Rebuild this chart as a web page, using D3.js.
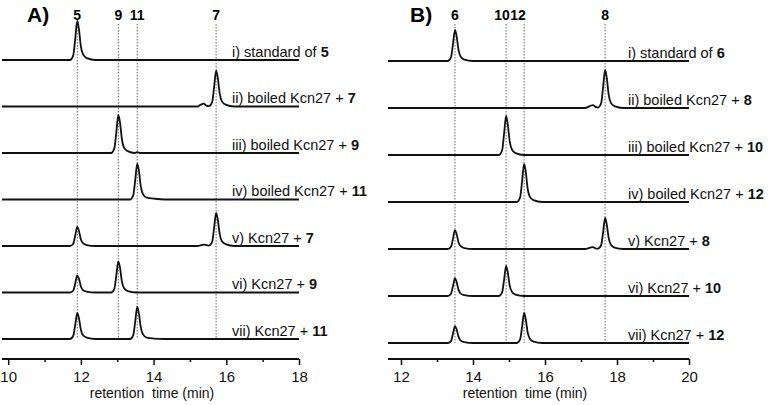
<!DOCTYPE html>
<html>
<head>
<meta charset="utf-8">
<script src="https://cdn.jsdelivr.net/npm/d3@7"></script>
<style>
  html, body { margin: 0; padding: 0; background: #fff; }
  svg { display: block; font-family: "Liberation Sans", Arial, sans-serif; }
</style>
</head>
<body>
<svg id="chart" width="769" height="405"></svg>
<script>
// ---------------- DATA ----------------
// Panel A: x domain (min), tick labels, reference compounds
const domainA = [9.83, 18];
const majorTicksA = [10, 12, 14, 16, 18];
const minorTicksA = [11, 13, 15, 17];
const markerTimesA = [11.9, 13.03, 13.55, 15.72];
const markerLabelsA = ["5", "9", "11", "7"];
const traceLabelsA = [
  ["i) standard of ", "5"],
  ["ii) boiled Kcn27 + ", "7"],
  ["iii) boiled Kcn27 + ", "9"],
  ["iv) boiled Kcn27 + ", "11"],
  ["v) Kcn27 + ", "7"],
  ["vi) Kcn27 + ", "9"],
  ["vii) Kcn27 + ", "11"]
];
// chromatogram points [time (min), signal (a.u.)]
const traceA1 = [[9.83,0],[11.7,0],[11.79,10],[11.845,46],[11.9,84],[11.945,67],[12.0,29],[12.06,12],[12.16,4],[12.4,0],[18,0]];
const traceA2 = [[9.83,0],[15.2,0],[15.3,4],[15.38,6],[15.45,2],[15.52,1],[15.61,9],[15.665,42],[15.72,77],[15.765,62],[15.82,27],[15.88,11],[15.98,4],[16.22,0],[18,0]];
const traceA3 = [[9.83,0],[12.83,0],[12.92,10],[12.975,45],[13.03,82],[13.075,66],[13.13,29],[13.19,11],[13.29,4],[13.48,0],[13.55,2],[13.62,0],[18,0]];
const traceA4 = [[9.83,0],[13.35,0],[13.44,9],[13.495,42],[13.55,77],[13.595,62],[13.65,27],[13.71,11],[13.81,4],[14.0,2],[14.3,0],[18,0]];
const traceA5 = [[9.83,0],[11.7,0],[11.79,5],[11.845,23],[11.9,41],[11.945,33],[12.0,14],[12.06,6],[12.16,2],[12.4,0],[15.2,0],[15.38,3],[15.52,1],[15.61,9],[15.665,39],[15.72,71],[15.765,57],[15.82,25],[15.88,10],[15.98,4],[16.22,0],[18,0]];
const traceA6 = [[9.83,0],[11.7,0],[11.79,4],[11.845,20],[11.9,37],[11.945,30],[12.0,13],[12.06,5],[12.16,2],[12.4,0],[12.83,0],[12.92,8],[12.975,37],[13.03,67],[13.075,54],[13.13,23],[13.19,9],[13.29,3],[13.53,0],[18,0]];
const traceA7 = [[9.83,0],[11.7,0],[11.79,7],[11.845,31],[11.9,56],[11.945,45],[12.0,20],[12.06,8],[12.16,3],[12.4,0],[13.35,0],[13.44,8],[13.495,38],[13.55,69],[13.595,55],[13.65,24],[13.71,10],[13.81,3],[14.0,1],[14.3,0],[18,0]];
const tracesA = [traceA1, traceA2, traceA3, traceA4, traceA5, traceA6, traceA7];

// Panel B
const domainB = [11.64, 20];
const majorTicksB = [12, 14, 16, 18, 20];
const minorTicksB = [13, 15, 17, 19];
const markerTimesB = [13.5, 14.92, 15.42, 17.67];
const markerLabelsB = ["6", "10", "12", "8"];
const traceLabelsB = [
  ["i) standard of ", "6"],
  ["ii) boiled Kcn27 + ", "8"],
  ["iii) boiled Kcn27 + ", "10"],
  ["iv) boiled Kcn27 + ", "12"],
  ["v) Kcn27 + ", "8"],
  ["vi) Kcn27 + ", "10"],
  ["vii) Kcn27 + ", "12"]
];
const traceB1 = [[11.64,0],[13.3,0],[13.39,8],[13.445,36],[13.5,66],[13.545,53],[13.6,23],[13.66,9],[13.76,3],[14.0,0],[20,0]];
const traceB2 = [[11.64,0],[17.1,0],[17.33,6],[17.42,2],[17.47,1],[17.56,10],[17.615,45],[17.67,81],[17.715,65],[17.77,28],[17.83,11],[17.93,4],[18.17,0],[20,0]];
const traceB3 = [[11.64,0],[14.72,0],[14.81,10],[14.865,46],[14.92,83],[14.965,66],[15.02,29],[15.08,12],[15.18,4],[15.42,0],[20,0]];
const traceB4 = [[11.64,0],[15.22,0],[15.31,10],[15.365,45],[15.42,81],[15.465,65],[15.52,28],[15.58,11],[15.68,4],[15.92,0],[20,0]];
const traceB5 = [[11.64,0],[13.3,0],[13.39,5],[13.445,22],[13.5,40],[13.545,32],[13.6,14],[13.66,6],[13.76,2],[14.0,0],[17.1,0],[17.33,4],[17.42,1],[17.47,1],[17.56,8],[17.615,36],[17.67,66],[17.715,53],[17.77,23],[17.83,9],[17.93,3],[18.17,0],[20,0]];
const traceB6 = [[11.64,0],[13.3,0],[13.39,5],[13.445,21],[13.5,38],[13.545,30],[13.6,13],[13.66,5],[13.76,2],[14.0,0],[14.72,0],[14.81,8],[14.865,35],[14.92,64],[14.965,51],[15.02,22],[15.08,9],[15.18,3],[15.42,0],[20,0]];
const traceB7 = [[11.64,0],[13.3,0],[13.39,4],[13.445,20],[13.5,36],[13.545,29],[13.6,13],[13.66,5],[13.76,2],[14.0,0],[15.22,0],[15.31,8],[15.365,35],[15.42,64],[15.465,51],[15.52,22],[15.58,9],[15.68,3],[15.92,0],[20,0]];
const tracesB = [traceB1, traceB2, traceB3, traceB4, traceB5, traceB6, traceB7];

const traceSpacing = 100; // signal units between stacked traces
const axisTitle = "retention\u00a0\u00a0time (min)";

// ---------------- DRAW ----------------
const svg = d3.select("#chart");

function panel(cfg) {
  const g = svg.append("g");
  const x = d3.scaleLinear().domain(cfg.domain).range(cfg.xRange);
  const n = cfg.traces.length;
  const y = d3.scaleLinear().domain([0, (n - 1) * traceSpacing]).range(cfg.yRange);

  // panel letter
  g.append("text").attr("x", cfg.letterX).attr("y", 22)
    .attr("font-size", 21).attr("font-weight", "bold").text(cfg.letter);

  // dotted marker lines
  g.selectAll(".mk").data(cfg.markerTimes).join("line")
    .attr("x1", d => x(d)).attr("x2", d => x(d))
    .attr("y1", 24).attr("y2", cfg.yRange[0])
    .attr("stroke", "#666").attr("stroke-width", 1)
    .attr("stroke-dasharray", "1.5,1.5");
  g.selectAll(".mkl").data(cfg.markerLabels).join("text")
    .attr("x", (d, i) => x(cfg.markerTimes[i]) + (cfg.markerDx ? cfg.markerDx[i] : 0))
    .attr("y", 20).attr("text-anchor", "middle")
    .attr("font-size", 14).attr("font-weight", "bold").text(d => d);

  // traces
  const line = d3.line().curve(d3.curveMonotoneX);
  cfg.traces.forEach((tr, k) => {
    const off = (n - 1 - k) * traceSpacing;
    g.append("path")
      .attr("d", line.x(d => x(d[0])).y(d => y(off + d[1]))(tr))
      .attr("fill", "none").attr("stroke", "#111").attr("stroke-width", 1.8)
      .attr("stroke-linejoin", "round");
    const t = g.append("text").attr("x", cfg.labelX).attr("y", y(off) - 3.5)
      .attr("font-size", 14.5).attr("fill", "#111");
    t.append("tspan").text(cfg.labels[k][0]);
    t.append("tspan").attr("font-weight", "bold").text(cfg.labels[k][1]);
  });

  // axis
  const ax = g.append("g").attr("transform", `translate(0,${cfg.axisY})`);
  ax.append("line").attr("x1", cfg.xRange[0]).attr("x2", cfg.xRange[1])
    .attr("stroke", "#111").attr("stroke-width", 2);
  const major = d3.axisBottom(x).tickValues(cfg.majorTicks).tickSize(6).tickPadding(6.5)
    .tickFormat(d3.format("d"));
  const ga = ax.append("g").call(major);
  ga.select(".domain").remove();
  ga.selectAll("line").attr("stroke", "#111").attr("stroke-width", 1.5);
  ga.selectAll("text").attr("font-size", 15).attr("font-family", "Liberation Sans, Arial, sans-serif").attr("fill", "#111");
  const minor = d3.axisBottom(x).tickValues(cfg.minorTicks).tickSize(3).tickFormat("");
  const gm = ax.append("g").call(minor);
  gm.select(".domain").remove();
  gm.selectAll("line").attr("stroke", "#111").attr("stroke-width", 1.5);

  g.append("text").attr("x", cfg.titleX).attr("y", cfg.axisY + 39)
    .attr("text-anchor", "middle").attr("font-size", 14).attr("fill", "#111").text(axisTitle);
}

panel({
  letter: "A)", letterX: 27,
  domain: domainA, xRange: [2, 299], yRange: [339, 60],
  traces: tracesA, labels: traceLabelsA, labelX: 232,
  markerTimes: markerTimesA, markerLabels: markerLabelsA,
  majorTicks: majorTicksA, minorTicks: minorTicksA,
  axisY: 359, titleX: 152
});
panel({
  letter: "B)", letterX: 410,
  domain: domainB, xRange: [388, 689], yRange: [343, 61],
  traces: tracesB, labels: traceLabelsB, labelX: 628,
  markerTimes: markerTimesB, markerLabels: markerLabelsB, markerDx: [0, -4, -6, 0],
  majorTicks: majorTicksB, minorTicks: minorTicksB,
  axisY: 359, titleX: 525
});
</script>
</body>
</html>
